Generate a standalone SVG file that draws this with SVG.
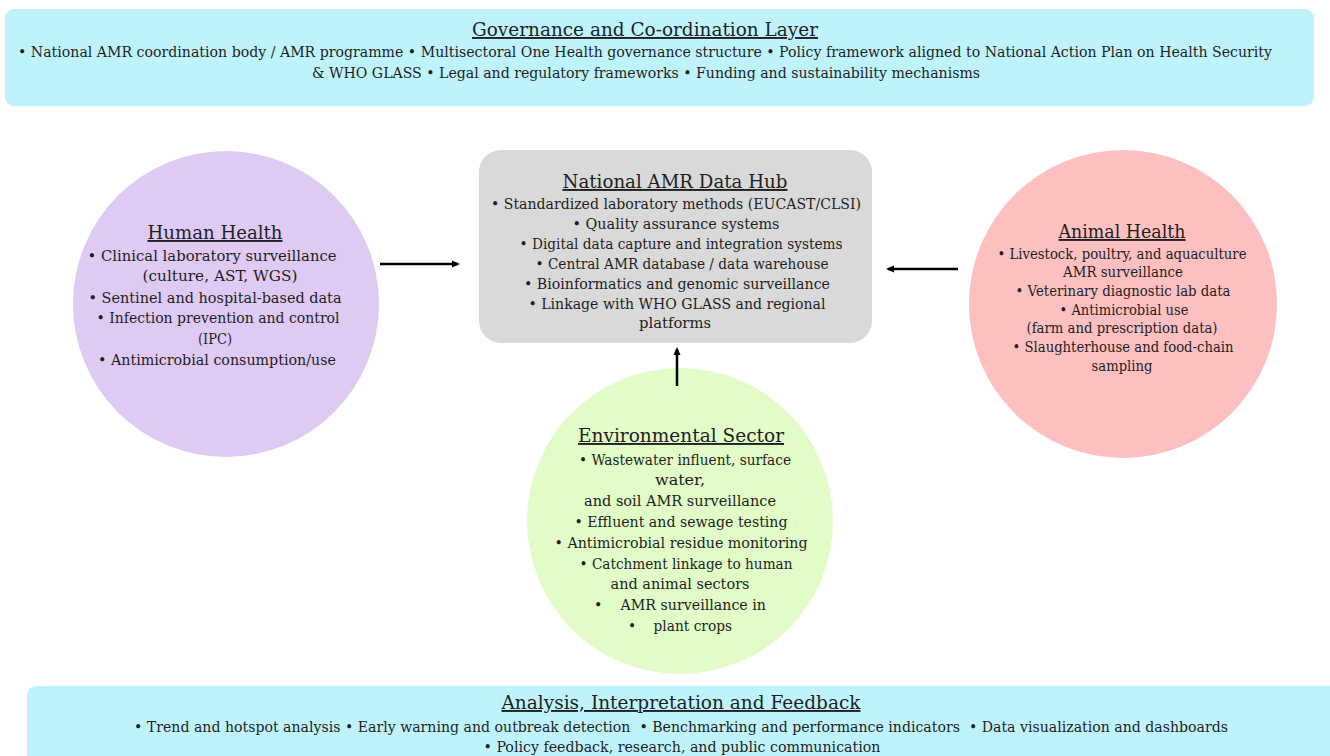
<svg xmlns="http://www.w3.org/2000/svg" width="1330" height="756" viewBox="0 0 1330 756">
<style>
text{font-family:"DejaVu Serif","Liberation Serif",serif;fill:#1e1e1e;text-anchor:middle}
.t{font-size:19px;text-decoration:underline}
.b{font-size:15px}
.s{font-size:14px}
.pre{white-space:pre}
.conn line{stroke:#000;stroke-width:2.5}
</style>
<defs>
<marker id="ah" markerWidth="8" markerHeight="8" refX="6" refY="4" orient="auto" markerUnits="userSpaceOnUse">
<path d="M0,0.5 L8,4 L0,7.5 Z" fill="#000"/>
</marker>
</defs>
<rect width="1330" height="756" fill="#fff"/>
<g id="governance">
<rect x="5" y="9" width="1309" height="97" rx="9" fill="#bff3fb"/>
<text class="t" x="645" y="36" textLength="346" lengthAdjust="spacingAndGlyphs">Governance and Co-ordination Layer</text>
<text class="s" x="645" y="57" textLength="1254" lengthAdjust="spacingAndGlyphs">• National AMR coordination body / AMR programme • Multisectoral One Health governance structure • Policy framework aligned to National Action Plan on Health Security</text>
<text class="b" x="646" y="78" textLength="668" lengthAdjust="spacingAndGlyphs">&amp; WHO GLASS • Legal and regulatory frameworks • Funding and sustainability mechanisms</text>
</g>
<g id="human">
<circle cx="226" cy="304" r="153" fill="#dfcaf3"/>
<text class="t" x="215" y="239" textLength="135" lengthAdjust="spacingAndGlyphs">Human Health</text>
<text class="b" x="212" y="261" textLength="249" lengthAdjust="spacingAndGlyphs">• Clinical laboratory surveillance</text>
<text class="b" x="220" y="281" textLength="155" lengthAdjust="spacingAndGlyphs">(culture, AST, WGS)</text>
<text class="b" x="215" y="303" textLength="253" lengthAdjust="spacingAndGlyphs">• Sentinel and hospital-based data</text>
<text class="b" x="218" y="323" textLength="243" lengthAdjust="spacingAndGlyphs">• Infection prevention and control</text>
<text class="b" x="215" y="344" textLength="34" lengthAdjust="spacingAndGlyphs">(IPC)</text>
<text class="b" x="217" y="365" textLength="238" lengthAdjust="spacingAndGlyphs">• Antimicrobial consumption/use</text>
</g>
<g id="hub">
<rect x="479" y="150" width="393" height="193" rx="22" fill="#d9d9d9"/>
<text class="t" x="675" y="188" textLength="225" lengthAdjust="spacingAndGlyphs">National AMR Data Hub</text>
<text class="b" x="676" y="209" textLength="370" lengthAdjust="spacingAndGlyphs">• Standardized laboratory methods (EUCAST/CLSI)</text>
<text class="b" x="676" y="229" textLength="207" lengthAdjust="spacingAndGlyphs">• Quality assurance systems</text>
<text class="b" x="681" y="249" textLength="323" lengthAdjust="spacingAndGlyphs">• Digital data capture and integration systems</text>
<text class="b" x="682" y="269" textLength="293" lengthAdjust="spacingAndGlyphs">• Central AMR database / data warehouse</text>
<text class="b" x="677" y="289" textLength="306" lengthAdjust="spacingAndGlyphs">• Bioinformatics and genomic surveillance</text>
<text class="b" x="677" y="309" textLength="297" lengthAdjust="spacingAndGlyphs">• Linkage with WHO GLASS and regional</text>
<text class="b" x="675" y="328" textLength="72" lengthAdjust="spacingAndGlyphs">platforms</text>
</g>
<g id="animal">
<circle cx="1123" cy="304" r="154" fill="#fcc0c0"/>
<text class="t" x="1122" y="238" textLength="127" lengthAdjust="spacingAndGlyphs">Animal Health</text>
<text class="b" x="1122" y="259" textLength="249" lengthAdjust="spacingAndGlyphs">• Livestock, poultry, and aquaculture</text>
<text class="b" x="1123" y="277" textLength="120" lengthAdjust="spacingAndGlyphs">AMR surveillance</text>
<text class="b" x="1123" y="296" textLength="215" lengthAdjust="spacingAndGlyphs">• Veterinary diagnostic lab data</text>
<text class="b" x="1124" y="315" textLength="129" lengthAdjust="spacingAndGlyphs">• Antimicrobial use</text>
<text class="b" x="1122" y="333" textLength="191" lengthAdjust="spacingAndGlyphs">(farm and prescription data)</text>
<text class="b" x="1123" y="352" textLength="221" lengthAdjust="spacingAndGlyphs">• Slaughterhouse and food-chain</text>
<text class="b" x="1122" y="371" textLength="61" lengthAdjust="spacingAndGlyphs">sampling</text>
</g>
<g id="environment">
<circle cx="680" cy="521" r="153" fill="#e1fcc6"/>
<text class="t" x="681" y="442" textLength="206" lengthAdjust="spacingAndGlyphs">Environmental Sector</text>
<text class="b" x="685" y="465" textLength="212" lengthAdjust="spacingAndGlyphs">• Wastewater influent, surface</text>
<text class="b" x="680" y="485" textLength="50" lengthAdjust="spacingAndGlyphs">water,</text>
<text class="b" x="680" y="506" textLength="192" lengthAdjust="spacingAndGlyphs">and soil AMR surveillance</text>
<text class="b" x="681" y="527" textLength="213" lengthAdjust="spacingAndGlyphs">• Effluent and sewage testing</text>
<text class="b" x="681" y="548" textLength="253" lengthAdjust="spacingAndGlyphs">• Antimicrobial residue monitoring</text>
<text class="b" x="686" y="569" textLength="213" lengthAdjust="spacingAndGlyphs">• Catchment linkage to human</text>
<text class="b" x="680" y="589" textLength="139" lengthAdjust="spacingAndGlyphs">and animal sectors</text>
<text class="b pre" x="680" y="610" textLength="172" lengthAdjust="spacingAndGlyphs">•    AMR surveillance in</text>
<text class="b pre" x="680" y="631" textLength="104" lengthAdjust="spacingAndGlyphs">•    plant crops</text>
</g>
<g id="analysis">
<rect x="27" y="686" width="1320" height="80" rx="9" fill="#bff3fb"/>
<text class="t" x="681" y="709" textLength="359" lengthAdjust="spacingAndGlyphs">Analysis, Interpretation and Feedback</text>
<text class="s pre" x="681" y="732" textLength="1094" lengthAdjust="spacingAndGlyphs">• Trend and hotspot analysis • Early warning and outbreak detection  • Benchmarking and performance indicators  • Data visualization and dashboards</text>
<text class="b" x="682" y="752" textLength="397" lengthAdjust="spacingAndGlyphs">• Policy feedback, research, and public communication</text>
</g>
<g id="connectors" class="conn">
<line x1="380" y1="264" x2="458" y2="264" marker-end="url(#ah)"/>
<line x1="958" y1="269" x2="888" y2="269" marker-end="url(#ah)"/>
<line x1="677" y1="386" x2="677" y2="349" marker-end="url(#ah)"/>
</g>
</svg>
